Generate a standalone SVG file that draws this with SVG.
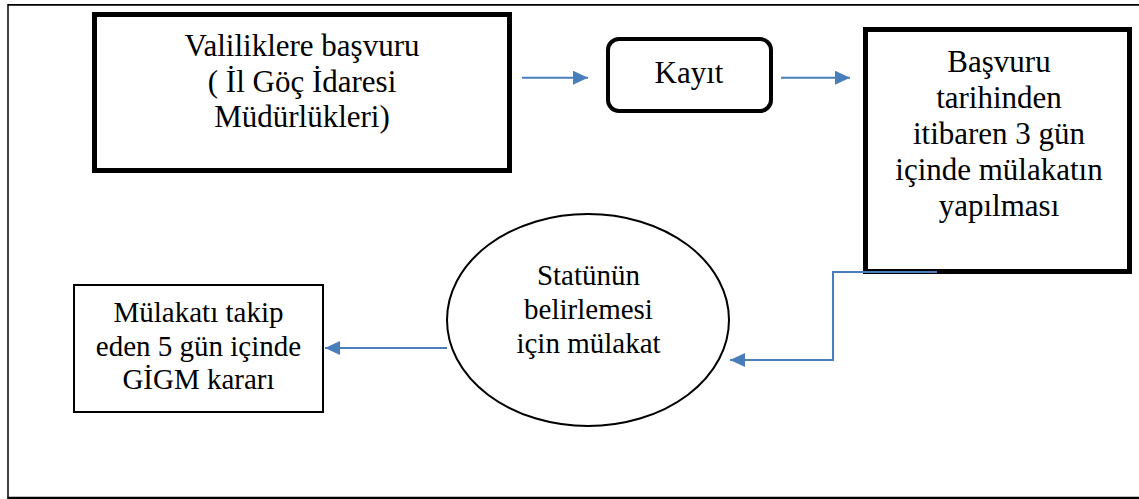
<svg xmlns="http://www.w3.org/2000/svg" width="1139" height="499" viewBox="0 0 1139 499">
<style>
text{font-family:"Liberation Serif","Times New Roman",serif;fill:#000;text-anchor:middle}
.t31{font-size:31px}
.t29{font-size:29px}
.box{fill:#fff;stroke:#000}
.conn{fill:none;stroke:#4a7ebb;stroke-width:2}
</style>
<defs>
<marker id="ah" markerUnits="userSpaceOnUse" markerWidth="16" markerHeight="15" refX="15" refY="7" orient="auto">
<path d="M0,0 L15,7 L0,14 z" fill="#4a7ebb"/>
</marker>
</defs>
<rect width="1139" height="499" fill="#fff"/>
<g id="frame" fill="none" stroke="#000">
<line x1="8" y1="4.8" x2="1139" y2="4.8" stroke-width="1.8"/>
<line x1="8" y1="4" x2="8" y2="498" stroke-width="1.5"/>
<line x1="7.3" y1="498" x2="1139" y2="498" stroke-width="2.6"/>
</g>
<g id="n1">
<rect class="box" x="94.5" y="14.5" width="415" height="156" stroke-width="5"/>
<text class="t31" x="302" y="56">Valiliklere başvuru</text>
<text class="t31" x="302" y="92">( İl Göç İdaresi</text>
<text class="t31" x="302" y="127">Müdürlükleri)</text>
</g>
<g id="n2">
<rect class="box" x="608" y="39" width="163" height="72" rx="11" ry="11" stroke-width="4"/>
<text class="t31" x="689" y="83">Kayıt</text>
</g>
<g id="n3">
<rect class="box" x="865.5" y="29.5" width="264" height="242" stroke-width="5"/>
<text class="t31" x="999" y="72">Başvuru</text>
<text class="t31" x="999" y="108">tarihinden</text>
<text class="t31" x="999" y="144">itibaren 3 gün</text>
<text class="t31" x="999" y="180">içinde mülakatın</text>
<text class="t31" x="999" y="216">yapılması</text>
</g>
<g id="n4">
<ellipse class="box" cx="588" cy="320" rx="141" ry="106" stroke-width="2"/>
<text class="t29" x="588.5" y="285">Statünün</text>
<text class="t29" x="588.5" y="319">belirlemesi</text>
<text class="t29" x="588.5" y="353">için mülakat</text>
</g>
<g id="n5">
<rect class="box" x="74" y="285" width="249" height="127" stroke-width="2"/>
<text class="t29" x="198.5" y="322">Mülakatı takip</text>
<text class="t29" x="198.5" y="356">eden 5 gün içinde</text>
<text class="t29" x="198.5" y="389">GİGM kararı</text>
</g>
<g id="connectors">
<line class="conn" x1="522" y1="77.7" x2="588" y2="77.7" marker-end="url(#ah)"/>
<line class="conn" x1="781" y1="77.7" x2="850" y2="77.7" marker-end="url(#ah)"/>
<polyline class="conn" points="937,272 833,272 833,360 730,360" marker-end="url(#ah)"/>
<line class="conn" x1="447" y1="348" x2="325" y2="348" marker-end="url(#ah)"/>
</g>
</svg>
